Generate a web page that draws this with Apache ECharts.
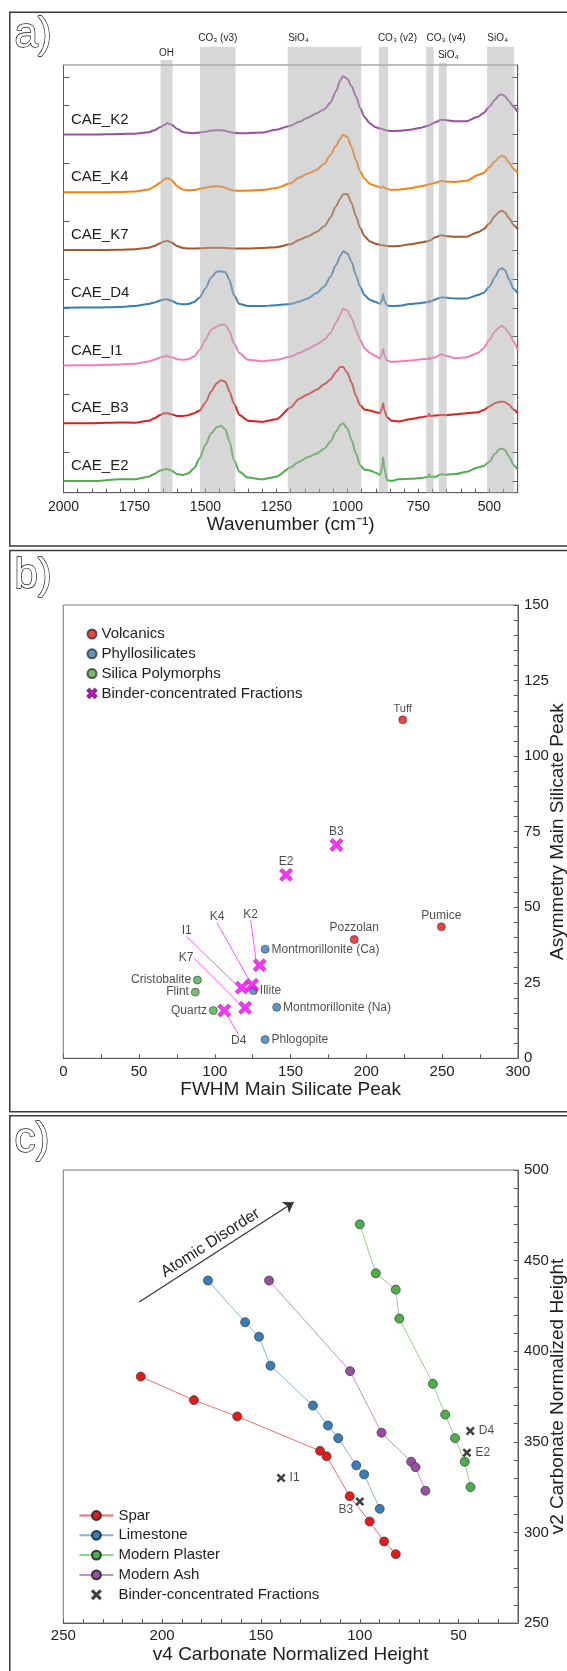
<!DOCTYPE html>
<html><head><meta charset="utf-8">
<script src="https://cdn.jsdelivr.net/npm/echarts@6/dist/echarts.min.js"></script>
<style>html,body{margin:0;padding:0;background:#fff}#c{width:567px;height:1671px}</style>
</head><body><div id="c"></div>
<script>
// ================= Panel a : FTIR spectra =================
const wavenumbers = [2000,1900,1800,1750,1700,1680,1660,1645,1635,1620,1600,1580,1560,1540,1520,1500,1480,1460,1445,1430,1415,1400,1380,1350,1300,1250,1200,1170,1140,1110,1080,1060,1040,1025,1015,1000,985,970,955,940,920,900,885,878,874,870,860,845,820,780,740,714,712,710,690,670,650,620,580,540,520,500,480,465,455,445,430,415,400];
const spectrumNames = ['CAE_K2','CAE_K4','CAE_K7','CAE_D4','CAE_I1','CAE_B3','CAE_E2'];
const specK2 = [0,0,0.02,0.03,0.08, 0.15,0.25,0.33,0.39,0.35, 0.2,0.09,0.06,0.05,0.07, 0.1,0.14,0.15,0.15,0.13, 0.09,0.06,0.05,0.05,0.07, 0.17,0.31,0.44,0.58,0.73, 0.89,1.1,1.5,1.88,2.02, 1.93,1.67,1.33,0.92,0.61, 0.38,0.25,0.21,0.2,0.18, 0.17,0.14,0.12,0.13,0.17, 0.24,0.31,0.32,0.33,0.43, 0.51,0.5,0.46,0.46,0.62, 0.75,0.96,1.21,1.37,1.39, 1.33,1.15,0.96,0.77];
const specK4 = [0,0,0.01,0.03,0.1, 0.2,0.33,0.45,0.5,0.43, 0.22,0.1,0.07,0.08,0.12, 0.16,0.2,0.21,0.2,0.16, 0.1,0.06,0.05,0.06,0.08, 0.15,0.31,0.51,0.65,0.77, 1.0,1.29,1.61,1.86,1.99, 1.92,1.56,1.12,0.72,0.47, 0.29,0.22,0.17,0.17,0.2, 0.17,0.12,0.08,0.09,0.14, 0.21,0.27,0.27,0.28,0.33, 0.39,0.37,0.36,0.4,0.6, 0.67,0.87,1.07,1.22,1.27, 1.22,1.02,0.81,0.67];
const specK7 = [0,0,0.01,0.03,0.08, 0.14,0.23,0.3,0.32,0.27, 0.14,0.07,0.05,0.05,0.06, 0.07,0.08,0.08,0.08,0.07, 0.06,0.05,0.05,0.05,0.07, 0.1,0.2,0.35,0.47,0.62, 0.83,1.12,1.52,1.78,1.93, 1.94,1.62,1.18,0.77,0.48, 0.3,0.22,0.18,0.17,0.17, 0.16,0.14,0.13,0.14,0.2, 0.26,0.31,0.32,0.33,0.44, 0.51,0.48,0.46,0.46,0.62, 0.72,0.92,1.18,1.33,1.36, 1.3,1.1,0.87,0.72];
const specD4 = [0,0.01,0.03,0.06,0.13, 0.18,0.25,0.29,0.3,0.24, 0.15,0.12,0.13,0.2,0.36, 0.67,1.05,1.25,1.27,1.23, 0.96,0.44,0.13,0.06,0.06, 0.09,0.13,0.21,0.32,0.5, 0.75,1.07,1.48,1.79,1.96, 1.88,1.59,1.13,0.73,0.44, 0.27,0.2,0.13,0.27,0.47, 0.24,0.08,0.06,0.07,0.13, 0.17,0.2,0.24,0.2,0.29, 0.36,0.35,0.32,0.32,0.44, 0.52,0.73,1.07,1.33,1.37, 1.3,0.98,0.66,0.5];
const specI1 = [0,0.01,0.04,0.06,0.14, 0.2,0.28,0.31,0.33,0.29, 0.22,0.2,0.22,0.31,0.54, 0.89,1.24,1.35,1.42,1.41, 1.18,0.77,0.43,0.2,0.15, 0.2,0.31,0.43,0.57,0.72, 0.91,1.12,1.47,1.76,1.97, 1.9,1.64,1.24,0.89,0.6, 0.43,0.33,0.24,0.4,0.57, 0.37,0.17,0.13,0.14,0.17, 0.22,0.23,0.29,0.23,0.29, 0.39,0.33,0.25,0.29,0.43, 0.6,0.89,1.18,1.33,1.37, 1.29,1.12,0.83,0.54];
const specB3 = [0,0,0.03,0.02,0.09, 0.17,0.29,0.35,0.35,0.31, 0.25,0.25,0.28,0.35,0.44, 0.72,1.1,1.39,1.49,1.44, 1.1,0.69,0.29,0.09,0.05, 0.14,0.55,0.85,1.0,1.15, 1.36,1.52,1.78,1.95,1.95, 1.75,1.4,0.95,0.62,0.48, 0.44,0.38,0.35,0.52,0.69, 0.46,0.21,0.09,0.06,0.14, 0.21,0.25,0.33,0.25,0.27, 0.29,0.28,0.31,0.35,0.38, 0.46,0.58,0.69,0.74,0.75, 0.73,0.64,0.48,0.35];
const specE2 = [0,0,0.06,0.06,0.15, 0.24,0.36,0.4,0.42,0.36, 0.24,0.21,0.27,0.44,0.79, 1.25,1.65,1.86,1.91,1.79, 1.36,0.73,0.32,0.12,0.06, 0.15,0.47,0.67,0.82,0.94, 1.13,1.36,1.71,1.94,2.0, 1.82,1.42,0.96,0.55,0.4, 0.36,0.29,0.21,0.44,0.82, 0.44,0.03,0.0,0.06,0.08, 0.1,0.15,0.23,0.15,0.15, 0.23,0.22,0.24,0.32,0.47, 0.52,0.67,0.94,1.1,1.13, 1.07,0.84,0.55,0.4];
const spectrumOffsets = [12,10,8,6,4,2,0];
const bandLabels = ['OH','CO\u2083 (v3)','SiO\u2084','CO\u2083 (v2)','CO\u2083 (v4)','SiO\u2084','SiO\u2084'];
const bandFrom = [1658,1519,1210,889,722,678,508];
const bandTo   = [1616,1394,951,857,696,650,412];
const waveLabelTicks = [500,750,1000,1250,1500,1750,2000];
const offsetTicksA = [0,1,2,3,4,5,6,7,8,9,10,11,12,13,14];

// ================= Panel b : silicate peak =================
const volcanicNames = ['Tuff','Pozzolan','Pumice'];
const volcanicX = [224,192,249.5];
const volcanicY = [112,39.3,43.5];
const phylloNames = ['Montmorillonite (Ca)','Illite','Montmorillonite (Na)','Phlogopite'];
const phylloX = [133.2,125.5,140.8,133.2];
const phylloY = [36.1,22.4,16.9,6.2];
const silicaNames = ['Cristobalite','Flint','Quartz'];
const silicaX = [88.5,87.1,99];
const silicaY = [25.9,21.9,15.8];
const binderBNames = ['B3','E2','K2','K4','I1','K7','D4'];
const binderBX = [180.2,147,129.6,124.6,117.7,120,106.2];
const binderBY = [70.6,60.7,30.8,24.3,23.4,16.7,15.8];

// ================= Panel c : carbonate heights =================
const sparX = [210.8,183.9,162,120.1,116.8,105.1,95,87.7,81.8];
const sparY = [386,373,364,345,342,320,306,295,288];
const limeX = [176.8,158,151,145.2,123.7,116.1,110.9,101.8,97.8,89.9];
const limeY = [439,416,408,392,370,359,352,337,332,313];
const plasterX = [100,91.9,81.8,80,63,56.8,51.8,46.9,44];
const plasterY = [470,443,434,418,382,365,352,339,325];
const ashX = [145.9,104.9,89,74,71.8,66.8];
const ashY = [439,389,355,339,336,323];
const binderCNames = ['I1','B3','D4','E2'];
const binderCX = [139.8,100,44.1,45.8];
const binderCY = [330,317,356,344];
const arrowFrom = [211.6,427.1];
const arrowTo = [133.4,482.2];

// ================= styling =================
const FONT = '"Liberation Sans", Arial, Helvetica, sans-serif';
const TXT = '#1e1e1e';
const AX = '#5a5a5a';
const spectrumColors = ['#984ea3','#ff7f0e','#a65628','#377eb8','#f47cba','#e41a1c','#4daf4a'];
const bandTop = [14.58,15.04,15.04,15.04,15.04,14.49,15.04];
const bandBottom = -0.405;
const bandLabelShift = [0,0,-26,14,16,5.5,-3];
const bandLabelDist = [1.7,3.4,3.4,3.4,3.4,2.7,3.4];
const X_PATH = 'path://M2,0 L5,3 L8,0 L10,2 L7,5 L10,8 L8,10 L5,7 L2,10 L0,8 L3,5 L0,2 Z';
const labelStyleB = {
  'Tuff':{position:'top',distance:1.5,fontSize:11},
  'Pozzolan':{position:'top',distance:1},
  'Pumice':{position:'top',distance:1},
  'Montmorillonite (Ca)':{position:'right',distance:2},
  'Illite':{position:'right',distance:2},
  'Montmorillonite (Na)':{position:'right',distance:2},
  'Phlogopite':{position:'right',distance:2},
  'Cristobalite':{position:'left',distance:2},
  'Flint':{position:'left',distance:2},
  'Quartz':{position:'left',distance:2},
  'B3':{position:'top',distance:0},
  'E2':{position:'top',distance:0.5},
  'K2':{position:'inside'},'K4':{position:'inside'},'I1':{position:'inside'},'K7':{position:'inside'},'D4':{position:'inside'}
};
const leaderShiftB = {K2:[-9,-51],K4:[-35,-68],I1:[-55,-57],K7:[-59,-50],D4:[14.5,30]};
const labelStyleC = {
  'I1':{position:'right',distance:4},
  'B3':{position:'left',distance:2,offset:[0,8]},
  'D4':{position:'right',distance:4},
  'E2':{position:'right',distance:4}
};
function range(a,b,s){const r=[];for(let v=a;v<=b+1e-9;v+=s)r.push(v);return r;}

function pts(names, xs, ys, styles){
  return xs.map((x,i)=>{
    const it = {name: names ? names[i] : '', value:[x, ys[i]]};
    if (names && styles && styles[names[i]]) it.label = Object.assign({}, styles[names[i]]);
    if (names && styles && styles === labelStyleB && !leaderShiftB[names[i]]) it.labelLine = {show:false};
    return it;
  });
}

const chart = echarts.init(document.getElementById('c'), null, {renderer:'canvas', width:567, height:1671});

const plainNum = v => String(v);
const baseAxis = {
  axisLine:{show:true, onZero:false, lineStyle:{color:AX, width:1}},
  axisTick:{show:true, inside:true, length:4, lineStyle:{color:AX}},
  axisLabel:{color:TXT, fontFamily:FONT, fontSize:15},
  splitLine:{show:false},
  nameMoveOverlap:false,
  nameTextStyle:{color:TXT, fontFamily:FONT, fontSize:19}
};
function ax(o){
  const r = JSON.parse(JSON.stringify(baseAxis));
  for (const k in o){
    if (typeof o[k]==='object' && !Array.isArray(o[k]) && r[k]) Object.assign(r[k], o[k]);
    else r[k]=o[k];
  }
  r.axisLabel.formatter = plainNum;
  return r;
}

const spectra = [specK2,specK4,specK7,specD4,specI1,specB3,specE2];
const series = [];
// spectra
spectrumNames.forEach((n,k)=>{
  series.push({
    type:'line', name:n, xAxisIndex:0, yAxisIndex:0, silent:true, clip:false,
    data: wavenumbers.map((w,i)=>[w, spectra[k][i] + spectrumOffsets[k]]),
    showSymbol:false, symbol:'none', smooth:0.25, smoothMonotone:'x',
    lineStyle:{color:spectrumColors[k], width:2}, itemStyle:{color:spectrumColors[k]}, z:2,
    markPoint:{silent:true, symbol:'circle', symbolSize:1, itemStyle:{color:'rgba(0,0,0,0)'},
      label:{show:true, position:'right', distance:7, offset:[0,-15], formatter:n, color:TXT, fontFamily:FONT, fontSize:15},
      data:[{coord:[wavenumbers[0], spectrumOffsets[k]]}]}
  });
});
// absorption bands (drawn through the axis scales, over the spectra)
series.push({
  type:'custom', name:'bands', xAxisIndex:0, yAxisIndex:0, silent:true, clip:false, z:5,
  data: bandFrom.map((f,i)=>[f, bandTo[i]]),
  encode:{x:[0,1]},
  renderItem:function(params, api){
    const i = params.dataIndex;
    const p1 = api.coord([api.value(0), bandTop[i]]);
    const p2 = api.coord([api.value(1), bandBottom]);
    return {type:'group', children:[
      {type:'rect', shape:{x:p1[0], y:p1[1], width:p2[0]-p1[0], height:p2[1]-p1[1]},
        style:{fill:'rgba(176,176,176,0.5)'}},
      {type:'text', x:(p1[0]+p2[0])/2 + bandLabelShift[i], y:p1[1]-bandLabelDist[i],
        style:{text:bandLabels[i], fill:TXT, font:'10px '+FONT, align:'center', verticalAlign:'bottom'}}
    ]};
  }
});
// panel b
const lblB = {show:true, formatter:'{b}', color:TXT, fontFamily:FONT, fontSize:12};
series.push({type:'scatter', name:'Volcanics', xAxisIndex:1, yAxisIndex:2, symbol:'circle', symbolSize:8,
  itemStyle:{color:'#e8151b', borderColor:'#333', borderWidth:0.7}, label:lblB, data:pts(volcanicNames, volcanicX, volcanicY, labelStyleB)});
series.push({type:'scatter', name:'Phyllosilicates', xAxisIndex:1, yAxisIndex:2, symbol:'circle', symbolSize:8,
  itemStyle:{color:'#377eb8', borderColor:'#333', borderWidth:0.7}, label:lblB, data:pts(phylloNames, phylloX, phylloY, labelStyleB)});
series.push({type:'scatter', name:'Silica Polymorphs', xAxisIndex:1, yAxisIndex:2, symbol:'circle', symbolSize:8,
  itemStyle:{color:'#4daf4a', borderColor:'#333', borderWidth:0.7}, label:lblB, data:pts(silicaNames, silicaX, silicaY, labelStyleB)});
series.push({type:'scatter', name:'Binder-concentrated Fractions', xAxisIndex:1, yAxisIndex:2, symbol:X_PATH, symbolSize:13, z:4,
  itemStyle:{color:'#ff00ff', borderColor:'#7a007a', borderWidth:0.6}, label:lblB,
  labelLine:{show:true, lineStyle:{color:'#ff55ff', width:1}},
  labelLayout:function(p){const s = leaderShiftB[binderBNames[p.dataIndex]]; return s ? {dx:s[0], dy:s[1]} : {};},
  data:pts(binderBNames, binderBX, binderBY, labelStyleB)});
// panel c
function lineSeries(name, xs, ys, mc, lc){
  return {type:'line', name:name, xAxisIndex:2, yAxisIndex:3, data:xs.map((x,i)=>[x,ys[i]]),
    symbol:'circle', symbolSize:9, showSymbol:true, z:3,
    itemStyle:{color:mc, borderColor:'#333', borderWidth:0.7}, lineStyle:{color:lc, width:1}};
}
series.push(lineSeries('Spar', sparX, sparY, '#e41a1c', '#f26d6d'));
series.push(lineSeries('Limestone', limeX, limeY, '#377eb8', '#86b3dc'));
series.push(lineSeries('Modern Plaster', plasterX, plasterY, '#4daf4a', '#92d18f'));
series.push(lineSeries('Modern Ash', ashX, ashY, '#984ea3', '#c590cf'));
series.push({type:'scatter', name:'Binder-concentrated Fractions ', xAxisIndex:2, yAxisIndex:3, symbol:X_PATH, symbolSize:9, z:4,
  itemStyle:{color:'#111'}, label:{show:true, formatter:'{b}', color:TXT, fontFamily:FONT, fontSize:12},
  data:pts(binderCNames, binderCX, binderCY, labelStyleC),
  markLine:{silent:true, symbol:['none','arrow'], symbolSize:[10,10], precision:2,
    itemStyle:{color:'#333'},
    lineStyle:{color:'#333', width:1.2, type:'solid'},
    label:{show:true, formatter:'Atomic Disorder', position:'insideMiddleTop', distance:3, color:TXT, fontFamily:FONT, fontSize:16},
    data:[[{coord:arrowFrom, symbol:'none'},{coord:arrowTo, symbol:'arrow', symbolSize:10}]]}
});

const gridCommon = {show:true, borderColor:'#7a7a7a', borderWidth:1, backgroundColor:'rgba(0,0,0,0)', containLabel:false, outerBoundsMode:'none'};

const option = {
  animation:false,
  backgroundColor:'#fff',
  textStyle:{fontFamily:FONT},
  grid:[
    Object.assign({left:63.5, top:65, width:454.2, height:427.7}, gridCommon),
    Object.assign({left:63.3, top:605, width:454.6, height:453.3}, gridCommon),
    Object.assign({left:63.3, top:1170, width:454.6, height:453}, gridCommon)
  ],
  xAxis:[
    ax({gridIndex:0, type:'value', inverse:true, min:400, max:2000, interval:50,
      axisTick:{length:4}, axisLabel:{customValues:waveLabelTicks, fontSize:14, margin:7},
      name:'Wavenumber (cm\u207B\u00B9)', nameLocation:'middle', nameGap:23}),
    ax({gridIndex:1, type:'value', min:0, max:300, interval:50,
      axisTick:{customValues:range(0,300,25)}, axisLabel:{margin:6},
      name:'FWHM Main Silicate Peak', nameLocation:'middle', nameGap:22}),
    ax({gridIndex:2, type:'value', inverse:true, min:20, max:250,
      axisTick:{customValues:range(30,250,10)}, axisLabel:{customValues:[50,100,150,200,250], margin:5},
      name:'v4 Carbonate Normalized Height', nameLocation:'middle', nameGap:22})
  ],
  yAxis:[
    ax({gridIndex:0, type:'value', position:'left', min:-0.405, max:14.41,
      axisTick:{customValues:offsetTicksA, length:6}, axisLabel:{show:false}}),
    ax({gridIndex:0, type:'value', position:'right', min:-0.405, max:14.41,
      axisTick:{customValues:offsetTicksA, length:6}, axisLabel:{show:false}}),
    ax({gridIndex:1, type:'value', position:'right', min:0, max:150, interval:25,
      axisTick:{customValues:range(0,150,5)}, axisLabel:{margin:6},
      name:'Asymmetry Main Silicate Peak', nameLocation:'middle', nameRotate:90, nameGap:30}),
    ax({gridIndex:2, type:'value', position:'right', min:250, max:500, interval:50,
      axisTick:{customValues:range(250,500,10)}, axisLabel:{margin:6},
      name:'v2 Carbonate Normalized Height', nameLocation:'middle', nameRotate:90, nameGap:30})
  ],
  legend:[
    {orient:'vertical', left:81.5, top:621.5, itemWidth:9, itemHeight:9, itemGap:4.8, selectedMode:false,
      textStyle:{color:TXT, fontFamily:FONT, fontSize:15},
      data:['Volcanics','Phyllosilicates','Silica Polymorphs','Binder-concentrated Fractions']},
    {orient:'vertical', left:73.4, top:1503, itemWidth:34, itemHeight:11, itemGap:4.8, selectedMode:false,
      textStyle:{color:TXT, fontFamily:FONT, fontSize:15},
      data:['Spar','Limestone','Modern Plaster','Modern Ash','Binder-concentrated Fractions ']}
  ],
  graphic:[
    {type:'rect', silent:true, shape:{x:9.8, y:12.3, width:620, height:533.7}, style:{fill:'none', stroke:'#3a3a3a', lineWidth:1.5}},
    {type:'rect', silent:true, shape:{x:9.8, y:550.5, width:620, height:561.2}, style:{fill:'none', stroke:'#3a3a3a', lineWidth:1.5}},
    {type:'rect', silent:true, shape:{x:9.8, y:1115.7, width:620, height:600}, style:{fill:'none', stroke:'#3a3a3a', lineWidth:1.5}},
    {type:'text', silent:true, x:14.5, y:35.4, style:{text:'a)', font:'42px '+FONT, fill:'#fff', stroke:'#111', lineWidth:1.3, verticalAlign:'middle'}},
    {type:'text', silent:true, x:14.5, y:576, style:{text:'b)', font:'42px '+FONT, fill:'#fff', stroke:'#111', lineWidth:1.3, verticalAlign:'middle'}},
    {type:'text', silent:true, x:14.5, y:1140, style:{text:'c)', font:'42px '+FONT, fill:'#fff', stroke:'#111', lineWidth:1.3, verticalAlign:'middle'}}
  ],
  series: series
};
chart.setOption(option);
</script>
</body></html>
